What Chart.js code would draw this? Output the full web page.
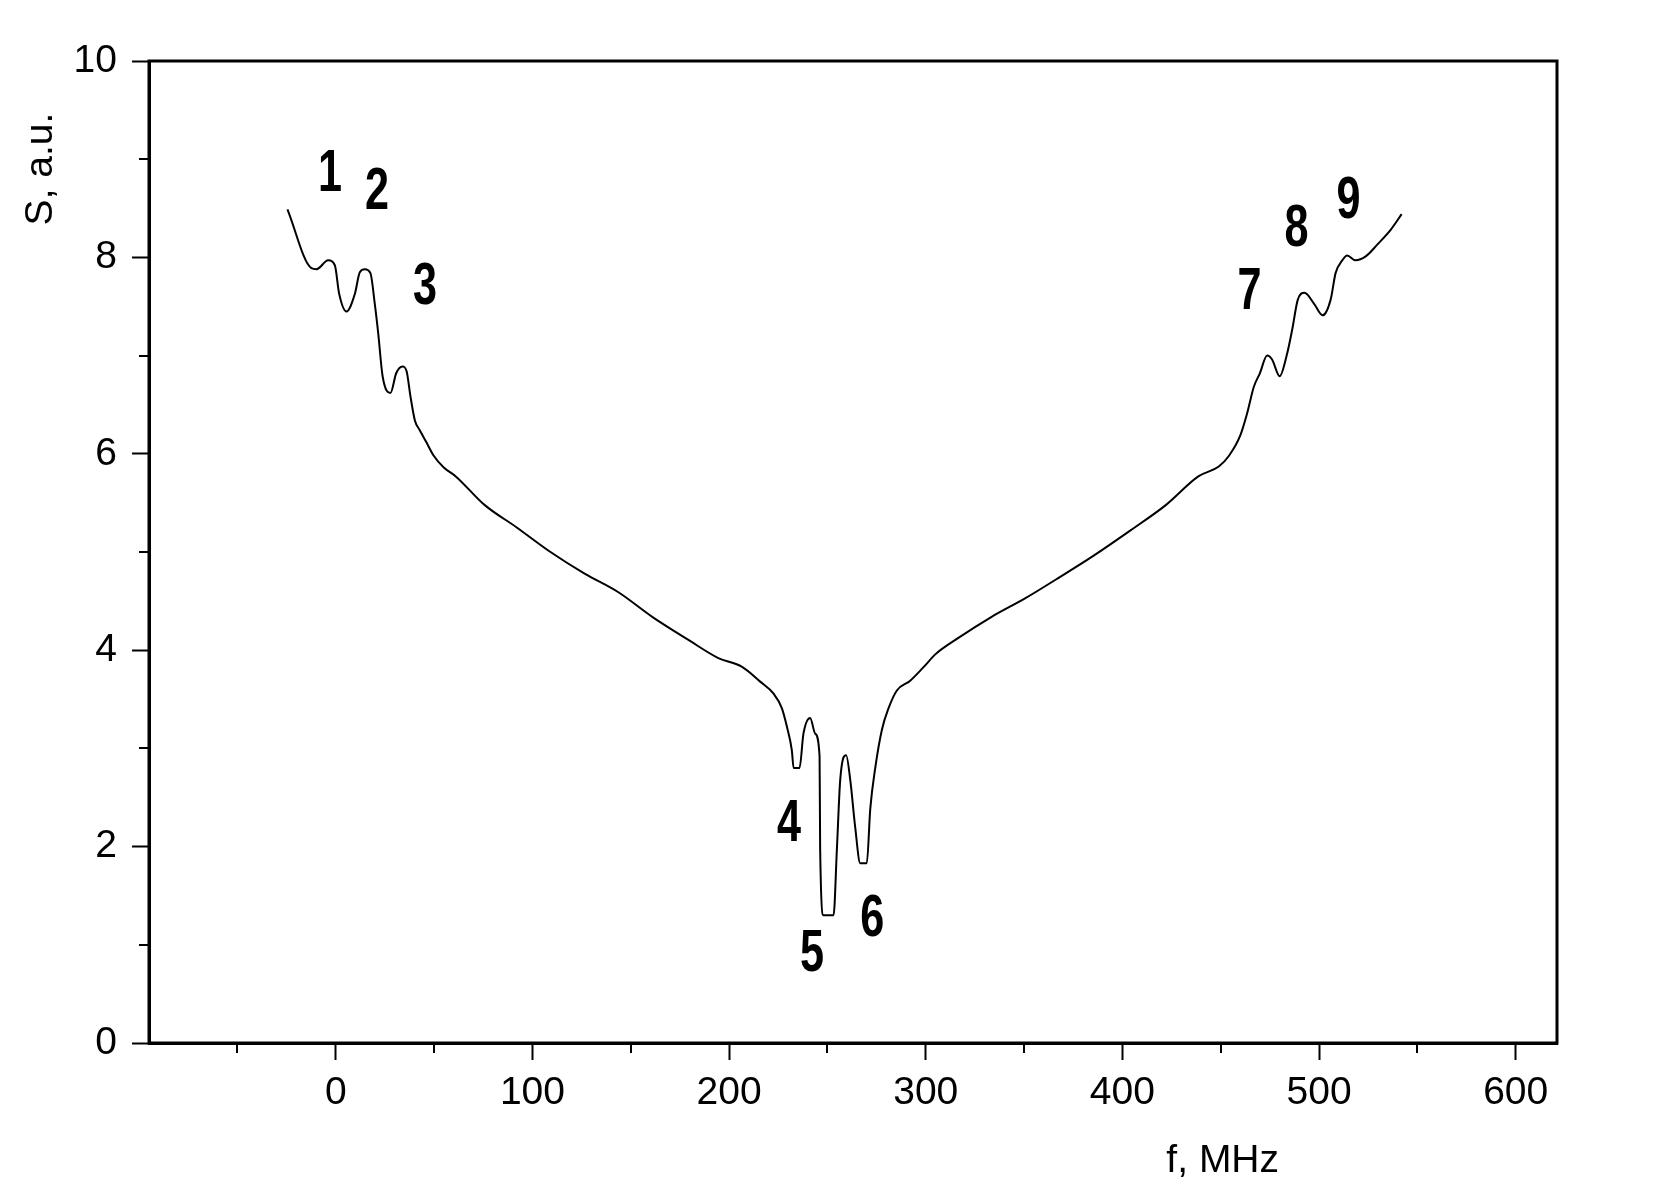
<!DOCTYPE html>
<html>
<head>
<meta charset="utf-8">
<script src="https://cdn.jsdelivr.net/npm/chart.js@4.4.0/dist/chart.umd.min.js"></script>
<style>
  html, body { margin: 0; padding: 0; background: #fff; }
  #wrap { width: 1655px; height: 1200px; }
</style>
</head>
<body>
<div id="wrap"><canvas id="grafico"></canvas></div>
<script>
// Dados
const freqs = [-24.6, -12.4, -9.8, -3.9, -0.5, 1.7, 5.4, 9.7, 12.2, 14.8, 17.6, 19.8, 21.5, 23.8, 27.8, 30.7, 33.9, 36, 38, 40.2, 42.7, 46, 49.8, 54.9,
  61, 75.6, 92, 108.4, 126.5, 143.7, 160.9, 178.9, 194.5, 206.6, 215.8, 222.5, 226.8, 229.4, 231.9, 232.8, 235.8, 237.8, 241.2, 243.8, 246,
  246.3, 248, 253.1, 254.8, 256.5, 259.5, 261.6, 264.1, 266.7, 270, 271.8, 274.3, 277.7, 281.1, 285.3, 292.1, 299, 305, 316.2, 333.5, 350.7,
  366.2, 385.2, 404.1, 422.2, 438.6, 449, 454.2, 460, 463.4, 466.8, 469.9, 473.6, 476.1, 480, 483.4, 486.3, 489.2, 492.6, 497.4, 501.8, 505.9, 508.4,
  511.8, 514.3, 518.6, 523.7, 529.6, 536.4, 542];
const sinal = [8.49, 7.89, 7.88, 7.97, 7.92, 7.63, 7.45, 7.63, 7.85, 7.88, 7.84, 7.53, 7.24, 6.79, 6.62, 6.82, 6.89, 6.84, 6.58, 6.34, 6.24, 6.12, 5.98, 5.86,
  5.77, 5.48, 5.25, 5.01, 4.78, 4.59, 4.34, 4.11, 3.92, 3.83, 3.68, 3.56, 3.41, 3.22, 2.98, 2.80, 2.80, 3.15, 3.31, 3.15, 2.92,
  1.97, 1.30, 1.30, 1.97, 2.68, 2.93, 2.68, 2.20, 1.83, 1.83, 2.39, 2.80, 3.19, 3.41, 3.59, 3.69, 3.83, 3.96, 4.12, 4.34, 4.53,
  4.72, 4.96, 5.22, 5.48, 5.77, 5.87, 5.98, 6.19, 6.41, 6.68, 6.82, 7.00, 6.96, 6.79, 6.99, 7.26, 7.57, 7.64, 7.53, 7.41, 7.57, 7.84,
  7.97, 8.02, 7.97, 8.01, 8.13, 8.28, 8.44];

// Números dos picos
const picoTexto = ["1", "2", "3", "4", "5", "6", "7", "8", "9"];
const picoX = [-3, 20.9, 45.3, 230.5, 242.2, 272.8, 464.6, 488.5, 515];
const picoY = [8.86, 8.68, 7.71, 2.25, 0.92, 1.28, 7.66, 8.30, 8.59];

// Escalas
const xMin = -95, xMax = 621;
const yMin = 0, yMax = 10;
const xMajorTicks = [0, 100, 200, 300, 400, 500, 600];
const yMajorTicks = [0, 2, 4, 6, 8, 10];
const xMinorTicks = [-50, 50, 150, 250, 350, 450, 550];
const yMinorTicks = [1, 3, 5, 7, 9];
const tituloX = "f, MHz";
const tituloY = "S, a.u.";

const fonte = "'Liberation Sans', Arial, sans-serif";

// Moldura, ticks menores, títulos e números
const extras = {
  id: 'extras',
  afterDraw(chart) {
    const ctx = chart.ctx;
    const a = chart.chartArea;
    const sx = chart.scales.x, sy = chart.scales.y;
    ctx.save();
    ctx.strokeStyle = '#000';
    ctx.lineWidth = 3;
    ctx.strokeRect(a.left, a.top, a.right - a.left, a.bottom - a.top);

    ctx.lineWidth = 2;
    ctx.beginPath();
    xMinorTicks.forEach(v => {
      const px = Math.round(sx.getPixelForValue(v));
      ctx.moveTo(px, a.bottom);
      ctx.lineTo(px, a.bottom + 10);
    });
    yMinorTicks.forEach(v => {
      const py = Math.round(sy.getPixelForValue(v));
      ctx.moveTo(a.left, py);
      ctx.lineTo(a.left - 10, py);
    });
    ctx.stroke();

    ctx.fillStyle = '#000';
    ctx.font = "39px " + fonte;
    ctx.textAlign = 'center';
    ctx.textBaseline = 'alphabetic';
    ctx.fillText(tituloX, sx.getPixelForValue(451), a.bottom + 129);

    ctx.save();
    ctx.translate(a.left - 97, sy.getPixelForValue(8.9));
    ctx.rotate(-Math.PI / 2);
    ctx.fillText(tituloY, 0, 0);
    ctx.restore();

    ctx.font = "bold 60px " + fonte;
    ctx.textBaseline = 'middle';
    picoTexto.forEach((t, i) => {
      ctx.save();
      ctx.translate(sx.getPixelForValue(picoX[i]), sy.getPixelForValue(picoY[i]));
      ctx.scale(0.72, 1);
      ctx.fillText(t, 0, 2);
      ctx.restore();
    });
    ctx.restore();
  }
};

const dados = {
  datasets: [{
    data: freqs.map((f, i) => ({ x: f, y: sinal[i] })),
    borderColor: '#000',
    borderWidth: 2,
    pointRadius: 0,
    cubicInterpolationMode: 'monotone',
    fill: false
  }]
};

new Chart(document.getElementById('grafico'), {
  type: 'line',
  data: dados,
  plugins: [extras],
  options: {
    responsive: true,
    maintainAspectRatio: false,
    animation: false,
    layout: { padding: { left: 0, top: 61, right: 98, bottom: 0 } },
    plugins: { legend: { display: false }, tooltip: { enabled: false } },
    scales: {
      x: {
        type: 'linear',
        min: xMin, max: xMax,
        afterFit(scale) { scale.height = 157; },
        afterBuildTicks(scale) {
          scale.ticks = xMajorTicks.map(v => ({ value: v }));
        },
        border: { display: true, color: '#000', width: 3 },
        grid: { drawOnChartArea: false, drawTicks: true, tickLength: 17, tickColor: '#000', tickWidth: 2 },
        ticks: { color: '#000', font: { family: fonte, size: 39 }, padding: 10, maxRotation: 0 }
      },
      y: {
        min: yMin, max: yMax,
        afterFit(scale) { scale.width = 149; },
        afterBuildTicks(scale) {
          scale.ticks = yMajorTicks.map(v => ({ value: v }));
        },
        border: { display: true, color: '#000', width: 3 },
        grid: { drawOnChartArea: false, drawTicks: true, tickLength: 17, tickColor: '#000', tickWidth: 2 },
        ticks: { color: '#000', font: { family: fonte, size: 39 }, padding: 15 }
      }
    }
  }
});
</script>
</body>
</html>
